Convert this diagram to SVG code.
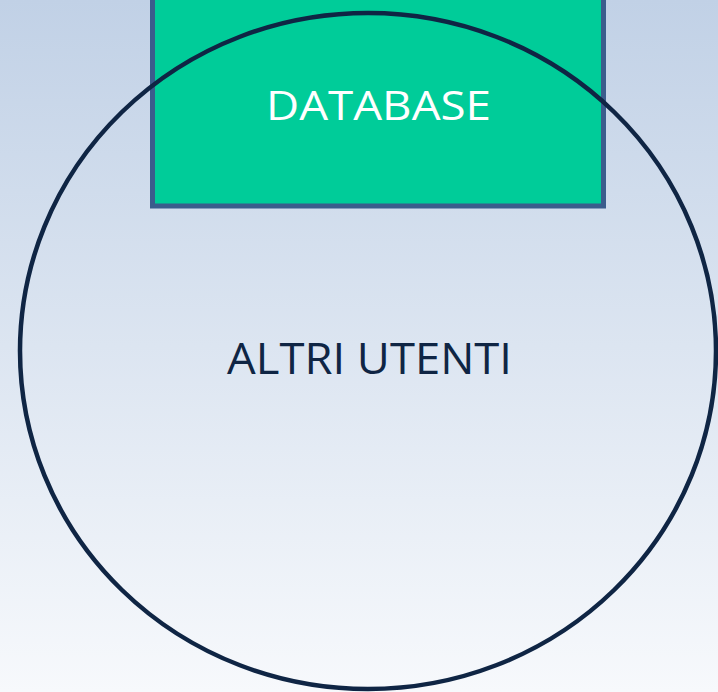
<svg xmlns="http://www.w3.org/2000/svg" width="718" height="692" viewBox="0 0 718 692">
<defs>
<linearGradient id="bg" x1="0" y1="0" x2="0" y2="1">
<stop offset="0" stop-color="#c1d1e6"/>
<stop offset="1" stop-color="#f7f9fc"/>
</linearGradient>
<style>
.lbl{font-family:"Open Sans","Liberation Sans",sans-serif;text-anchor:middle}
</style>
</defs>
<rect x="0" y="0" width="718" height="692" fill="url(#bg)"/>
<g id="database">
<rect x="152.5" y="-10" width="451" height="216" fill="#00cc99" stroke="#3b5d8c" stroke-width="5"/>
<text class="lbl" x="378.5" y="120" font-size="40" fill="#ffffff" textLength="225" lengthAdjust="spacingAndGlyphs">DATABASE</text>
</g>
<g id="altri-utenti">
<ellipse cx="368" cy="351" rx="348" ry="338" fill="none" stroke="#0f2544" stroke-width="4.5"/>
<text class="lbl" x="369.5" y="374" font-size="44" fill="#0f2544" textLength="285" lengthAdjust="spacingAndGlyphs">ALTRI UTENTI</text>
</g>
<g id="connectors"/>
</svg>
